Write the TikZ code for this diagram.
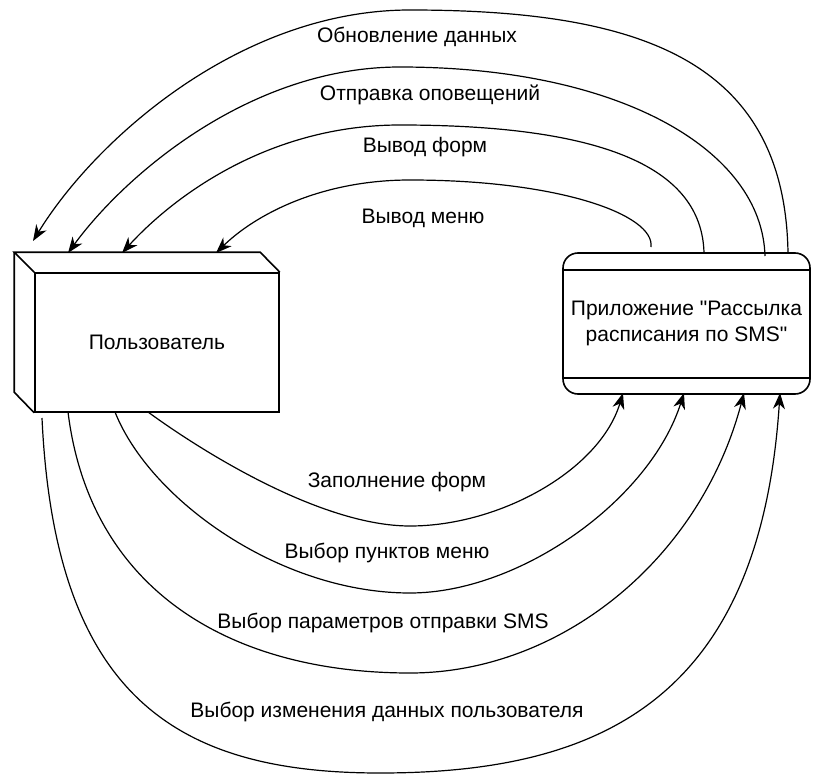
\documentclass[tikz,border=0pt]{standalone}
\usepackage{fontspec}
\setmainfont{Liberation Sans}
\usetikzlibrary{arrows.meta}
\tikzset{
	flow/.style={-{Stealth[length=16pt,width=12pt,inset=5pt]}, line width=1.2pt},
	lbl/.style={font=\fontsize{21}{26}\selectfont, inner sep=0pt},
	entity/.style={draw, line width=1.6pt, font=\fontsize{21}{26}\selectfont}
}
\begin{document}
\begin{tikzpicture}[x=1pt,y=-1pt]
	\useasboundingbox (0,0) rectangle (820,779);
	% blocks
	\node	(user) at (157,342.5) [entity, minimum width=244pt, minimum height=139pt] {Пользователь};
	\node	(app) at (686.5,323.5) [entity, rounded corners=15pt, minimum width=247pt, minimum height=141pt, align=center] {Приложение \textquotedbl Рассылка\\расписания по SMS\textquotedbl};
	\draw[line width=1.6pt] (user.north west) -- ++(-20,-20) -- ++(246,0) -- (user.north east);
	\draw[line width=1.6pt] (user.north west) ++(-20,-20) -- ++(0,140) -- (user.south west);
	\draw[line width=1.6pt] ([yshift=-18pt]app.north west) -- ([yshift=-18pt]app.north east);
	\draw[line width=1.6pt] ([yshift=17pt]app.south west) -- ([yshift=17pt]app.south east);
	% end points
	\coordinate	(o1) at (788,253);
	\coordinate	(o2) at (765,256);
	\coordinate	(o3) at (704,253);
	\coordinate	(o4) at (651,247);
	\coordinate	(t1) at (33,241);
	\coordinate	(t2) at (68,253);
	\coordinate	(t3) at (122,253);
	\coordinate	(t4) at (216,253);
	\coordinate	(u1) at (148,412);
	\coordinate	(u2) at (115,412);
	\coordinate	(u3) at (68,412);
	\coordinate	(u4) at (42,418);
	\coordinate	(a1) at (623,393);
	\coordinate	(a2) at (684,393);
	\coordinate	(a3) at (744,393);
	\coordinate	(a4) at (780,393);
	% labels
	\node	(l1) at (417,37) [lbl] {Обновление данных};
	\node	(l2) at (430,95) [lbl] {Отправка оповещений};
	\node	(l3) at (425,147) [lbl] {Вывод форм};
	\node	(l4) at (423,218) [lbl] {Вывод меню};
	\node	(l5) at (397,482) [lbl] {Заполнение форм};
	\node	(l6) at (387,553) [lbl] {Выбор пунктов меню};
	\node	(l7) at (383,623) [lbl] {Выбор параметров отправки SMS};
	\node	(l8) at (387,712) [lbl] {Выбор изменения данных пользователя};
	% flows to the user
	\draw[flow] (o1) .. controls (785,60) and (640,10) .. (410,10) .. controls (240,10) and (95,140) .. (t1);
	\draw[flow] (o2) .. controls (762,150) and (620,67) .. (400,67) .. controls (250,67) and (125,175) .. (t2);
	\draw[flow] (o3) .. controls (702,175) and (620,125) .. (400,125) .. controls (270,125) and (175,195) .. (t3);
	\draw[flow] (o4) .. controls (655,215) and (560,180) .. (410,180) .. controls (320,180) and (255,215) .. (t4);
	% flows to the application
	\draw[flow] (u1) .. controls (200,450) and (320,526) .. (410,526) .. controls (500,526) and (600,470) .. (a1);
	\draw[flow] (u2) .. controls (150,500) and (280,593) .. (410,593) .. controls (520,593) and (650,500) .. (a2);
	\draw[flow] (u3) .. controls (90,590) and (230,673) .. (410,673) .. controls (560,673) and (700,560) .. (a3);
	\draw[flow] (u4) .. controls (55,700) and (180,773) .. (380,773) .. controls (600,773) and (760,700) .. (a4);
\end{tikzpicture}
\end{document}
